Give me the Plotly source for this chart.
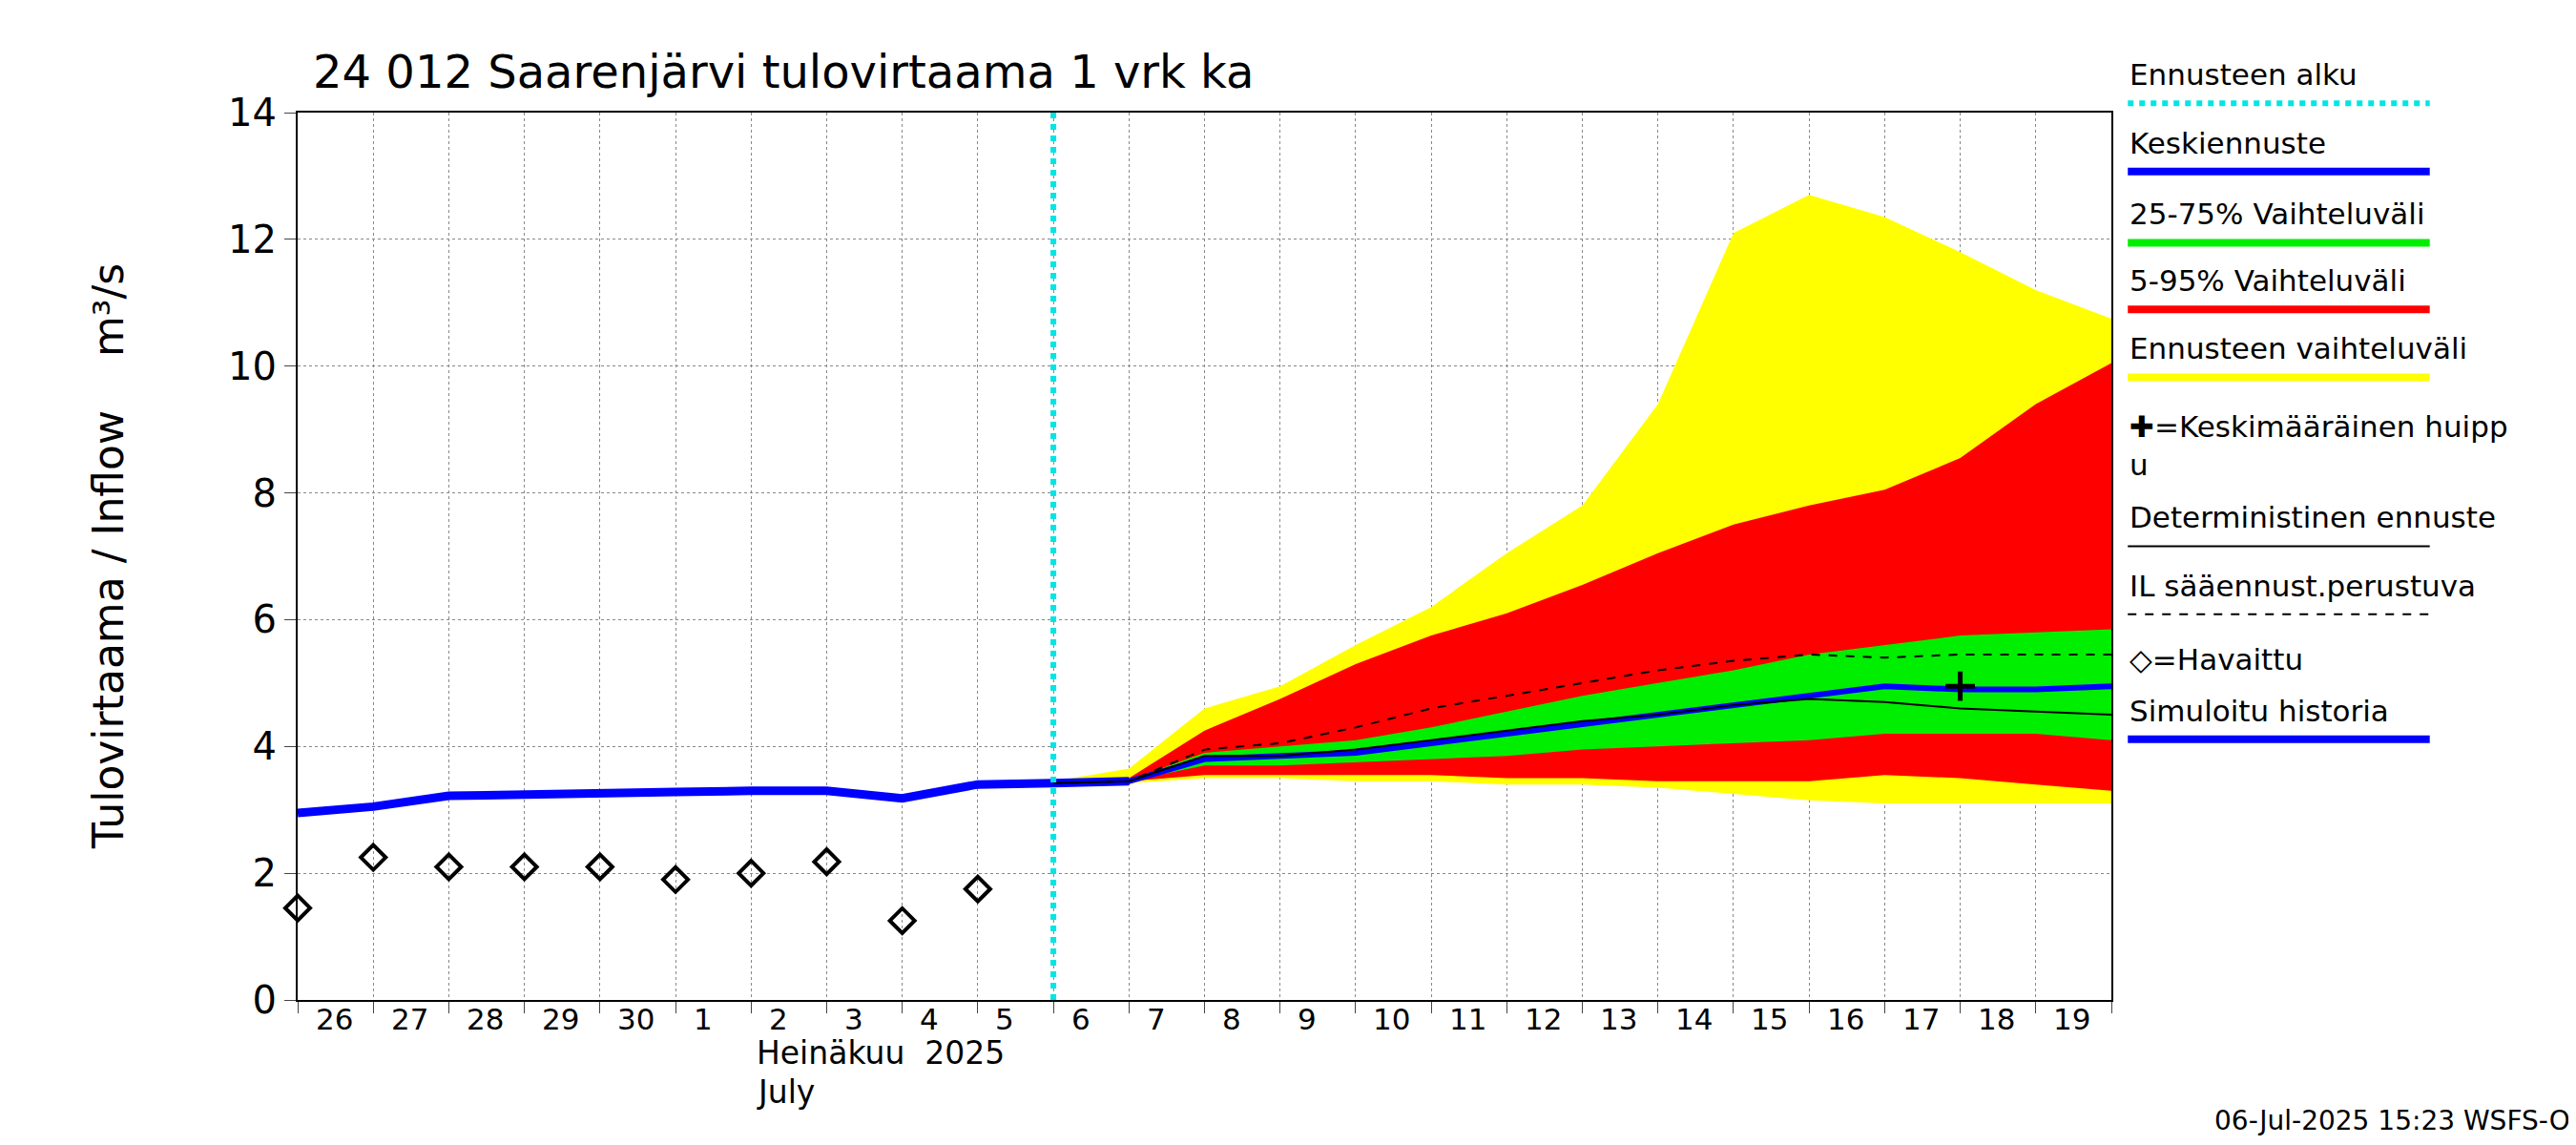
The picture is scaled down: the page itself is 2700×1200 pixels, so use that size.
import plotly.graph_objects as go
import pandas as pd

obs_dates = pd.date_range("2025-06-26", "2025-07-05", freq="D")
obs_vals = [1.45, 2.25, 2.1, 2.1, 2.1, 1.9, 2.0, 2.18, 1.25, 1.75]
sim_dates = pd.date_range("2025-06-26", "2025-07-07", freq="D")
sim_vals = [2.95, 3.05, 3.22, 3.25, 3.25, 3.28, 3.3, 3.3, 3.18, 3.4, 3.42, 3.45]
fc_dates = pd.date_range("2025-07-06", "2025-07-20", freq="D")
yel_hi = [3.45, 3.65, 4.6, 4.95, 5.6, 6.2, 7.05, 7.8, 9.4, 12.1, 12.7, 12.35, 11.8, 11.2, 10.75]
yel_lo = [3.4, 3.42, 3.5, 3.5, 3.45, 3.45, 3.4, 3.4, 3.35, 3.25, 3.15, 3.1, 3.1, 3.1, 3.1]
red_hi = [3.42, 3.5, 4.25, 4.75, 5.3, 5.75, 6.1, 6.55, 7.05, 7.5, 7.8, 8.05, 8.55, 9.4, 10.05]
red_lo = [3.42, 3.45, 3.55, 3.55, 3.55, 3.55, 3.5, 3.5, 3.45, 3.45, 3.45, 3.55, 3.5, 3.4, 3.3]
grn_hi = [3.42, 3.47, 3.9, 4.0, 4.1, 4.3, 4.55, 4.8, 5.0, 5.2, 5.45, 5.6, 5.75, 5.8, 5.85]
grn_lo = [3.42, 3.45, 3.7, 3.7, 3.75, 3.8, 3.85, 3.95, 4.0, 4.05, 4.1, 4.2, 4.2, 4.2, 4.1]
median = [3.42, 3.45, 3.8, 3.85, 3.9, 4.05, 4.2, 4.35, 4.5, 4.65, 4.8, 4.95, 4.9, 4.9, 4.95]
il_dash = [3.42, 3.45, 3.95, 4.05, 4.3, 4.6, 4.8, 5.0, 5.2, 5.35, 5.45, 5.4, 5.45, 5.45, 5.45]
determ = [3.42, 3.45, 3.85, 3.85, 3.95, 4.1, 4.25, 4.4, 4.5, 4.65, 4.75, 4.7, 4.6, 4.55, 4.5]
peak_date, peak_val = "2025-07-18", 4.95
day_labels = [str(d) for d in [26, 27, 28, 29, 30, 1, 2, 3, 4, 5, 6, 7, 8, 9, 10, 11, 12, 13, 14, 15, 16, 17, 18, 19]]
day_dates = pd.date_range("2025-06-26", "2025-07-19", freq="D")

fig = go.Figure()
def band(hi, lo, color):
    fig.add_trace(go.Scatter(x=list(fc_dates) + list(fc_dates[::-1]), y=hi + lo[::-1],
                             fill="toself", fillcolor=color, line=dict(width=0), mode="lines", hoverinfo="skip"))
band(yel_hi, yel_lo, "#ffff00")
band(red_hi, red_lo, "#ff0000")
band(grn_hi, grn_lo, "#00ee00")
fig.add_trace(go.Scatter(x=sim_dates, y=sim_vals, mode="lines", line=dict(color="#0000ff", width=9)))
fig.add_trace(go.Scatter(x=fc_dates, y=median, mode="lines", line=dict(color="#0000ff", width=6)))
fig.add_trace(go.Scatter(x=fc_dates, y=determ, mode="lines", line=dict(color="black", width=2)))
fig.add_trace(go.Scatter(x=fc_dates, y=il_dash, mode="lines", line=dict(color="black", width=2, dash="dash")))
fig.add_trace(go.Scatter(x=[peak_date], y=[peak_val], mode="markers", marker=dict(symbol="cross-thin", size=22, line=dict(width=5, color="black"))))
fig.add_trace(go.Scatter(x=obs_dates, y=obs_vals, mode="markers",
                         marker=dict(symbol="diamond-open", size=20, color="black", line=dict(width=4)), cliponaxis=False))

W, H = 2700, 1200
sx, sy = 1.72, 1.70
L, R, T, B = 304, 495, 110, 160
pw, ph = W - L - R, H - T - B
def X(px): return (px * sx - L) / pw
def Y(py): return 1 - (py * sy - T) / ph

fig.add_vline(x="2025-07-06", line=dict(color="#00e5e5", width=6, dash="dot"))
anns = []
for d, lab in zip(day_dates, day_labels):
    anns.append(dict(x=d + pd.Timedelta(hours=5), y=Y(612), xref="x", yref="paper", text=lab, showarrow=False,
                     xanchor="left", yanchor="top", font=dict(size=31)))
anns += [
    dict(x=X(455), y=Y(632), text="Heinäkuu  2025", xanchor="left", yanchor="top", font=dict(size=33)),
    dict(x=X(455), y=Y(656), text="July", xanchor="left", yanchor="top", font=dict(size=33)),
    dict(x=X(185), y=Y(22), text="24 012 Saarenjärvi tulovirtaama 1 vrk ka", xanchor="left", yanchor="top", font=dict(size=48)),
    dict(x=(W - 12 - L) / pw, y=Y(697), text="06-Jul-2025 15:23 WSFS-O", xanchor="right", yanchor="bottom", font=dict(size=28)),
    dict(x=X(45), y=0.5, text="Tulovirtaama / Inflow    m³/s", textangle=-90, font=dict(size=44)),
]
shapes = [dict(type="line", xref="paper", yref="paper", x0=X(407), x1=X(407), y0=Y(608), y1=Y(648), line=dict(color="black", width=2))]
leg = [
    ("Ennusteen alku", 59, dict(color="#00e5e5", width=6, dash="dot")),
    ("Keskiennuste", 101, dict(color="#0000ff", width=8)),
    ("25-75% Vaihteluväli", 145, dict(color="#00ee00", width=8)),
    ("5-95% Vaihteluväli", 186, dict(color="#ff0000", width=8)),
    ("Ennusteen vaihteluväli", 228, dict(color="#ffff00", width=8)),
    ("Deterministinen ennuste", 332, dict(color="black", width=2)),
    ("IL sääennust.perustuva", 374, dict(color="black", width=2, dash="dash")),
    ("Simuloitu historia", 451, dict(color="#0000ff", width=8)),
]
for txt, py, ln in leg:
    anns.append(dict(x=X(1292), y=Y(py - 6), text=txt, xanchor="left", yanchor="bottom", font=dict(size=31)))
    shapes.append(dict(type="line", xref="paper", yref="paper", x0=X(1292), x1=X(1476), y0=Y(py), y1=Y(py), line=ln))
anns.append(dict(x=X(1292), y=Y(270), text="<b>✚</b>=Keskimääräinen huipp<br>u", xanchor="left", yanchor="middle", align="left", font=dict(size=31)))
anns.append(dict(x=X(1292), y=Y(402), text="<b>◇</b>=Havaittu", xanchor="left", yanchor="middle", font=dict(size=31)))
for a in anns:
    a.setdefault("xref", "paper"); a.setdefault("yref", "paper"); a.setdefault("showarrow", False)
    a["font"]["family"] = "DejaVu Sans"; a["font"]["color"] = "black"

fig.update_layout(width=W, height=H, margin=dict(l=L, r=R, t=T, b=B), showlegend=False,
                  plot_bgcolor="white", paper_bgcolor="white", annotations=anns, shapes=shapes,
                  font=dict(family="DejaVu Sans", color="black"))
fig.update_xaxes(range=["2025-06-26", "2025-07-20"], dtick=86400000, tick0="2025-06-26", showticklabels=False,
                 showgrid=True, gridcolor="#888", griddash="dot", gridwidth=1, ticks="outside", ticklen=12,
                 showline=True, linecolor="black", linewidth=2, mirror=True)
fig.update_yaxes(range=[0, 14], dtick=2, tickfont=dict(size=40), showgrid=True, gridcolor="#888", griddash="dot",
                 ticks="outside", ticklen=12, showline=True, linecolor="black", linewidth=2, mirror=True, zeroline=False)
fig.write_html("out.html")
